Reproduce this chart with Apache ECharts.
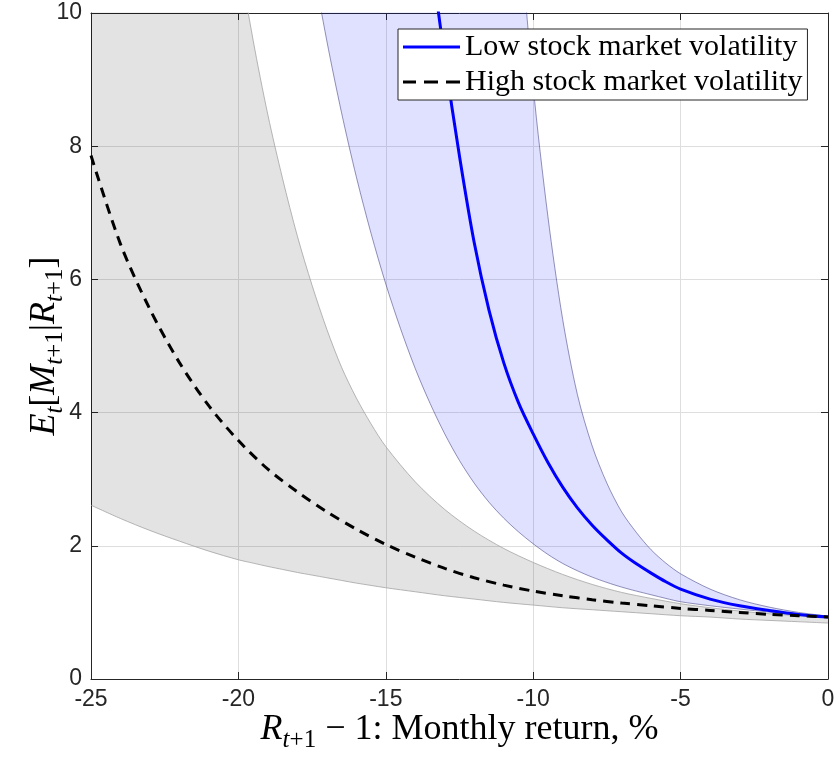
<!DOCTYPE html>
<html>
<head>
<meta charset="utf-8">
<style>
  html, body { margin: 0; padding: 0; background: #ffffff; }
  #chart { width: 837px; height: 759px; }
</style>
<script src="https://cdn.jsdelivr.net/npm/echarts@6/dist/echarts.min.js"></script>
</head>
<body>
<div id="chart"></div>
<script>
// Monthly market return, % (x) against the conditional expectation of the SDF (y)

// Confidence band, high-volatility state
const xGray = [-25, -24, -23, -22, -21, -20, -19.5, -19, -18.5, -18, -17.5, -17, -16.5, -16, -15.5, -15,
  -14, -13, -12, -11, -10, -9, -8, -7, -6, -5, -4, -3, -2, -1, 0];
const grayLower = [2.61, 2.41, 2.23, 2.07, 1.92, 1.79, 1.74, 1.69, 1.645, 1.60, 1.56, 1.52, 1.48, 1.44, 1.405, 1.37,
  1.31, 1.25, 1.20, 1.15, 1.11, 1.07, 1.04, 1.01, 0.98, 0.95, 0.93, 0.90, 0.88, 0.86, 0.84];
const grayUpper = [41, 31.5, 24, 18.4, 14.1, 10.9, 9.59, 8.47, 7.51, 6.65, 5.91, 5.25, 4.68, 4.22, 3.83, 3.49,
  2.96, 2.545, 2.22, 1.96, 1.75, 1.57, 1.42, 1.30, 1.21, 1.13, 1.07, 1.02, 0.98, 0.95, 0.92];

// Confidence band, low-volatility state
const xBlue = [-18, -17.5, -17, -16.5, -16, -15.5, -15, -14.5, -14, -13.5, -13, -12.5, -12, -11.5, -11, -10.5,
  -10, -9.5, -9, -8.5, -8, -7.5, -7, -6.5, -6, -5.5, -5, -4, -3, -2, -1, 0];
const blueLower = [12.2, 10.8, 9.58, 8.50, 7.54, 6.69, 5.93, 5.26, 4.66, 4.14, 3.68, 3.28, 2.94, 2.655, 2.415, 2.21,
  2.03, 1.87, 1.735, 1.625, 1.53, 1.45, 1.38, 1.32, 1.265, 1.21, 1.16, 1.10, 1.05, 1.005, 0.965, 0.93];
const blueUpper = [1026, 760, 563, 417, 309, 229, 170, 125, 93, 69, 51, 38, 28, 20.8, 15.4, 11.6,
  8.9, 6.94, 5.40, 4.27, 3.50, 2.94, 2.51, 2.20, 1.94, 1.74, 1.58, 1.35, 1.19, 1.08, 1.0, 0.945];

// Point estimates
const xLow = [-14, -13.5, -13, -12.5, -12, -11.5, -11, -10.5, -10, -9.5, -9, -8.5, -8, -7.5, -7, -6.5,
  -6, -5.5, -5, -4, -3, -2, -1, 0];
const lowVol = [13.1, 11.0, 9.32, 7.85, 6.55, 5.54, 4.75, 4.15, 3.68, 3.25, 2.88, 2.57, 2.31, 2.09, 1.89, 1.73,
  1.59, 1.46, 1.35, 1.20, 1.10, 1.03, 0.97, 0.93];
const xHigh = [-25, -24, -23, -22, -21, -20, -19, -18, -17, -16, -15, -14, -13, -12, -11, -10,
  -9, -8, -7, -6, -5, -4, -3, -2, -1, 0];
const highVol = [7.86, 6.53, 5.55, 4.75, 4.10, 3.58, 3.15, 2.81, 2.51, 2.25, 2.02, 1.83, 1.66, 1.52, 1.41, 1.32,
  1.25, 1.19, 1.14, 1.10, 1.06, 1.03, 1.00, 0.97, 0.95, 0.93];

const xTicks = [-25, -20, -15, -10, -5, 0];
const yTicks = [0, 2, 4, 6, 8, 10];

const seriesNames = ['Low stock market volatility', 'High stock market volatility'];

// [x, y] points for plain lines
const pairs = (xs, ys) => xs.map((x, i) => [x, ys[i]]);
// band rows are stored as [y, x] so that stacking runs along the y dimension
const bandBase = (xs, lo) => xs.map((x, i) => [lo[i], x]);
const bandSpan = (xs, lo, hi) => xs.map((x, i) => [hi[i] - lo[i], x]);

const AXIS = '#262626';
const SERIF = "'Liberation Serif', 'Times New Roman', serif";
const SANS = "'Liberation Sans', Arial, Helvetica, sans-serif";
const SMOOTH = 0.3;

const mathRich = {
  n:  { fontFamily: SERIF, fontSize: 36, lineHeight: 46, color: '#000' },
  i:  { fontFamily: SERIF, fontSize: 36, lineHeight: 46, fontStyle: 'italic', color: '#000' },
  si: { fontFamily: SERIF, fontSize: 25, lineHeight: 26, fontStyle: 'italic', verticalAlign: 'bottom', color: '#000' },
  s:  { fontFamily: SERIF, fontSize: 25, lineHeight: 26, verticalAlign: 'bottom', color: '#000' }
};

const chart = echarts.init(document.getElementById('chart'), null, { renderer: 'canvas' });

const bandEdge = (color) => ({ color: color, width: 0.8 });
const grayEdge = '#a3a3a3';
const blueEdge = 'rgba(50,50,120,0.65)';

const solidIcon = 'path://M0,0h57v3h-57z';
const dashIcon = 'path://M0,0h13v3h-13z M21,0h14v3h-14z M43,0h14v3h-14z';

chart.setOption({
  animation: false,
  backgroundColor: '#ffffff',
  grid: { left: 91, right: 9, top: 13, bottom: 80, containLabel: false, outerBoundsMode: 'none' },
  legend: {
    data: [
      { name: seriesNames[0], icon: solidIcon },
      { name: seriesNames[1], icon: dashIcon }
    ],
    orient: 'vertical',
    left: 398,
    top: 29,
    itemWidth: 57,
    itemHeight: 3,
    itemGap: 5,
    padding: [3, 5, 3, 5],
    backgroundColor: '#ffffff',
    borderColor: AXIS,
    borderWidth: 1,
    borderRadius: 0,
    textStyle: { fontFamily: SERIF, fontSize: 30, lineHeight: 30, color: '#000' }
  },
  xAxis: [{
    type: 'value', min: -25, max: 0, interval: 5, position: 'bottom',
    name: '{i|R}{si|t}{s|+1}{n| − 1: Monthly return, %}',
    nameLocation: 'middle', nameGap: 28, nameMoveOverlap: false,
    nameTextStyle: { rich: mathRich },
    axisLine: { show: true, onZero: false, lineStyle: { color: AXIS, width: 1 } },
    axisTick: { show: true, inside: true, length: 7, lineStyle: { color: AXIS } },
    axisLabel: { show: true, margin: 9, fontFamily: SANS, fontSize: 23, color: AXIS,
      customValues: xTicks },
    splitLine: { show: true, lineStyle: { color: '#dedede', width: 1 } }
  }, {
    type: 'value', min: -25, max: 0, interval: 5, position: 'top',
    axisLine: { show: true, onZero: false, lineStyle: { color: AXIS, width: 1 } },
    axisTick: { show: true, inside: true, length: 7, lineStyle: { color: AXIS } },
    axisLabel: { show: false },
    splitLine: { show: false }
  }],
  yAxis: [{
    type: 'value', min: 0, max: 10, interval: 2, position: 'left',
    name: '{i|E}{si|t}{n|[}{i|M}{si|t}{s|+1}{n||}{i|R}{si|t}{s|+1}{n|]}',
    nameLocation: 'middle', nameGap: 23, nameRotate: 90, nameMoveOverlap: false,
    nameTextStyle: { rich: mathRich },
    axisLine: { show: true, onZero: false, lineStyle: { color: AXIS, width: 1 } },
    axisTick: { show: true, inside: true, length: 7, lineStyle: { color: AXIS } },
    axisLabel: { show: true, margin: 9, fontFamily: SANS, fontSize: 23, color: AXIS,
      customValues: yTicks },
    splitLine: { show: true, lineStyle: { color: '#dedede', width: 1 } }
  }, {
    type: 'value', min: 0, max: 10, interval: 2, position: 'right',
    axisLine: { show: true, onZero: false, lineStyle: { color: AXIS, width: 1 } },
    axisTick: { show: true, inside: true, length: 7, lineStyle: { color: AXIS } },
    axisLabel: { show: false },
    splitLine: { show: false }
  }],
  series: [
    {
      name: 'grayBase', type: 'line', stack: 'grayBand', data: bandBase(xGray, grayLower),
      encode: { x: 1, y: 0 },
      symbol: 'none', smooth: SMOOTH, clip: true,
      lineStyle: bandEdge(grayEdge), z: 1, silent: true
    },
    {
      name: 'graySpan', type: 'line', stack: 'grayBand', data: bandSpan(xGray, grayLower, grayUpper),
      encode: { x: 1, y: 0 },
      symbol: 'none', smooth: SMOOTH, clip: true,
      lineStyle: bandEdge(grayEdge), areaStyle: { color: 'rgba(0,0,0,0.11)', opacity: 1 }, z: 1, silent: true
    },
    {
      name: 'blueBase', type: 'line', stack: 'blueBand', data: bandBase(xBlue, blueLower),
      encode: { x: 1, y: 0 },
      symbol: 'none', smooth: SMOOTH, clip: true,
      lineStyle: bandEdge(blueEdge), z: 1, silent: true
    },
    {
      name: 'blueSpan', type: 'line', stack: 'blueBand', data: bandSpan(xBlue, blueLower, blueUpper),
      encode: { x: 1, y: 0 },
      symbol: 'none', smooth: SMOOTH, clip: true,
      lineStyle: bandEdge(blueEdge), areaStyle: { color: 'rgba(0,0,255,0.12)', opacity: 1 }, z: 1, silent: true
    },
    {
      name: seriesNames[0], type: 'line', data: pairs(xLow, lowVol),
      symbol: 'none', smooth: SMOOTH, clip: true,
      lineStyle: { color: '#0000ff', width: 3 }, itemStyle: { color: '#0000ff' }, z: 3
    },
    {
      name: seriesNames[1], type: 'line', data: pairs(xHigh, highVol),
      symbol: 'none', smooth: SMOOTH, clip: true,
      lineStyle: { color: '#000000', width: 3, type: [10, 7] }, itemStyle: { color: '#000000' }, z: 4
    }
  ]
});
</script>
</body>
</html>
